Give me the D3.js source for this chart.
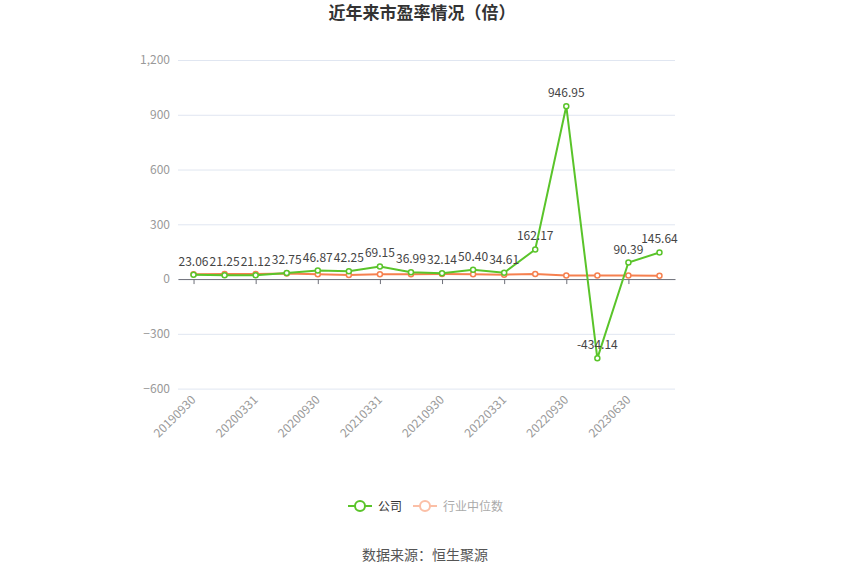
<!DOCTYPE html>
<html>
<head>
<meta charset="utf-8">
<script src="https://cdn.jsdelivr.net/npm/d3@7"></script>
<style>
  body { margin: 0; background: #fff; }
  text { font-family: "Microsoft YaHei", "Noto Sans CJK SC", sans-serif; }
</style>
</head>
<body>
<div id="chart"></div>
<script>
// report dates (x categories)
const dates = ['20190930', '20191231', '20200331', '20200630', '20200930', '20201231',
  '20210331', '20210630', '20210930', '20211231', '20220331', '20220630',
  '20220930', '20230331', '20230630', '20230930'];
// company P/E
const companyPE = [23.06, 21.25, 21.12, 32.75, 46.87, 42.25, 69.15, 36.99,
  32.14, 50.40, 34.61, 162.17, 946.95, -434.14, 90.39, 145.64];
// industry median P/E
const industryPE = [26, 28, 28, 30, 27, 22, 27, 27, 28, 26, 24, 28, 19, 19, 20, 18];
const yTicks = [-600, -300, 0, 300, 600, 900, 1200];

const width = 850, height = 575;
const green = '#5ac42a', orange = '#f6804f';

const svg = d3.select('#chart').append('svg')
  .attr('width', width)
  .attr('height', height);

const x = d3.scalePoint()
  .domain(dates)
  .range([178, 675])
  .padding(0.5);

const y = d3.scaleLinear()
  .domain([-600, 1200])
  .range([388.6, 60]);

// title
svg.append('text')
  .attr('x', 422).attr('y', 19)
  .attr('text-anchor', 'middle')
  .attr('font-size', 17)
  .attr('font-weight', 'bold')
  .attr('fill', '#333')
  .text('近年来市盈率情况（倍）');

// grid lines + y labels
const yAxis = d3.axisLeft(y)
  .tickValues(yTicks)
  .tickSize(-(675 - 178))
  .tickPadding(8)
  .tickFormat(d3.format(','));
const gy = svg.append('g')
  .attr('transform', 'translate(178,0)')
  .call(yAxis);
gy.select('.domain').remove();
gy.selectAll('.tick line').attr('stroke', '#e0e6f1');
gy.selectAll('.tick text').attr('fill', '#999').attr('font-size', 12);

// x axis line sitting on zero
const xAxis = d3.axisBottom(x)
  .tickValues(dates.filter((d, i) => i % 2 === 0))
  .tickSize(5)
  .tickSizeOuter(0)
  .tickFormat('');
const gx = svg.append('g')
  .attr('transform', `translate(0,${y(0)})`)
  .call(xAxis);
gx.select('.domain').attr('stroke', '#6e7079');
gx.selectAll('.tick line').attr('stroke', '#6e7079');

// x labels at bottom, rotated
svg.append('g').selectAll('text')
  .data(dates.filter((d, i) => i % 2 === 0))
  .join('text')
  .attr('transform', d => `translate(${x(d) + 3},${y(-600) + 12}) rotate(-45)`)
  .attr('text-anchor', 'end')
  .attr('font-size', 12)
  .attr('fill', '#999')
  .text(d => d);

const line = d3.line()
  .x((d, i) => x(dates[i]))
  .y(d => y(d));

function drawSeries(values, color) {
  const g = svg.append('g');
  g.append('path')
    .datum(values)
    .attr('fill', 'none')
    .attr('stroke', color)
    .attr('stroke-width', 2)
    .attr('d', line);
  g.selectAll('circle')
    .data(values)
    .join('circle')
    .attr('cx', (d, i) => x(dates[i]))
    .attr('cy', d => y(d))
    .attr('r', 2.5)
    .attr('fill', '#fff')
    .attr('stroke', color)
    .attr('stroke-width', 1.5);
  return g;
}

drawSeries(industryPE, orange);
const gc = drawSeries(companyPE, green);

// data labels for company
gc.selectAll('text')
  .data(companyPE)
  .join('text')
  .attr('x', (d, i) => x(dates[i]))
  .attr('y', d => y(d) - 9)
  .attr('text-anchor', 'middle')
  .attr('font-size', 12)
  .attr('fill', '#444')
  .text(d => d.toFixed(2));

// legend
const legend = [
  { name: '公司', color: green, text: '#333', x: 348 },
  { name: '行业中位数', color: '#fbbfa6', text: '#aaa', x: 413 }
];
const lg = svg.append('g').selectAll('g')
  .data(legend)
  .join('g')
  .attr('transform', d => `translate(${d.x},506)`);
lg.append('line')
  .attr('x1', 0).attr('x2', 24)
  .attr('stroke', d => d.color)
  .attr('stroke-width', 2);
lg.append('circle')
  .attr('cx', 12).attr('r', 5)
  .attr('fill', '#fff')
  .attr('stroke', d => d.color)
  .attr('stroke-width', 2);
lg.append('text')
  .attr('x', 30).attr('y', 4.5)
  .attr('font-size', 12)
  .attr('fill', d => d.text)
  .text(d => d.name);

// source
svg.append('text')
  .attr('x', 425).attr('y', 560)
  .attr('text-anchor', 'middle')
  .attr('font-size', 14)
  .attr('fill', '#555')
  .text('数据来源：恒生聚源');
</script>
</body>
</html>
